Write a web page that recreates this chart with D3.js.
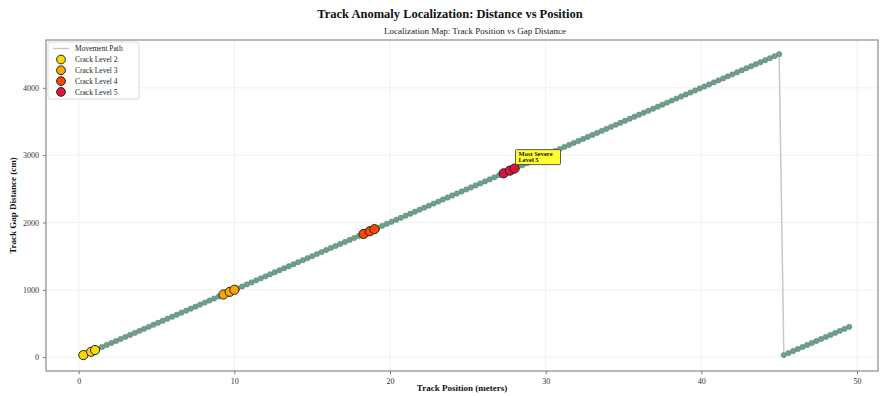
<!DOCTYPE html>
<html>
<head>
<meta charset="utf-8">
<script src="https://cdn.jsdelivr.net/npm/d3@7"></script>
<style>
  body { margin: 0; background: #fff; }
  svg text { font-family: "Liberation Serif", "DejaVu Serif", serif; }
</style>
</head>
<body>
<div id="chart"></div>
<script>
// track positions (m), one dot every 0.3 m
const positions = [
  0.3,0.6,0.9,1.2,1.5,1.8,2.1,2.4,2.7,3.0,3.3,3.6,3.9,4.2,4.5,4.8,5.1,5.4,5.7,6.0,
  6.3,6.6,6.9,7.2,7.5,7.8,8.1,8.4,8.7,9.0,9.3,9.6,9.9,10.2,10.5,10.8,11.1,11.4,11.7,12.0,
  12.3,12.6,12.9,13.2,13.5,13.8,14.1,14.4,14.7,15.0,15.3,15.6,15.9,16.2,16.5,16.8,17.1,17.4,17.7,18.0,
  18.3,18.6,18.9,19.2,19.5,19.8,20.1,20.4,20.7,21.0,21.3,21.6,21.9,22.2,22.5,22.8,23.1,23.4,23.7,24.0,
  24.3,24.6,24.9,25.2,25.5,25.8,26.1,26.4,26.7,27.0,27.3,27.6,27.9,28.2,28.5,28.8,29.1,29.4,29.7,30.0,
  30.3,30.6,30.9,31.2,31.5,31.8,32.1,32.4,32.7,33.0,33.3,33.6,33.9,34.2,34.5,34.8,35.1,35.4,35.7,36.0,
  36.3,36.6,36.9,37.2,37.5,37.8,38.1,38.4,38.7,39.0,39.3,39.6,39.9,40.2,40.5,40.8,41.1,41.4,41.7,42.0,
  42.3,42.6,42.9,43.2,43.5,43.8,44.1,44.4,44.7,45.0,
  45.3,45.6,45.9,46.2,46.5,46.8,47.1,47.4,47.7,48.0,48.3,48.6,48.9,49.2,49.5
];
// gap distance (cm) at each position
const gaps = [
  30,60,90,120,150,180,210,240,270,300,330,360,390,420,450,480,510,540,570,600,
  630,660,690,720,750,780,810,840,870,900,930,960,990,1020,1050,1080,1110,1140,1170,1200,
  1230,1260,1290,1320,1350,1380,1410,1440,1470,1500,1530,1560,1590,1620,1650,1680,1710,1740,1770,1800,
  1830,1860,1890,1920,1950,1980,2010,2040,2070,2100,2130,2160,2190,2220,2250,2280,2310,2340,2370,2400,
  2430,2460,2490,2520,2550,2580,2610,2640,2670,2700,2730,2760,2790,2820,2850,2880,2910,2940,2970,3000,
  3030,3060,3090,3120,3150,3180,3210,3240,3270,3300,3330,3360,3390,3420,3450,3480,3510,3540,3570,3600,
  3630,3660,3690,3720,3750,3780,3810,3840,3870,3900,3930,3960,3990,4020,4050,4080,4110,4140,4170,4200,
  4230,4260,4290,4320,4350,4380,4410,4440,4470,4500,
  30,60,90,120,150,180,210,240,270,300,330,360,390,420,450
];

// crack detections
const crackLevels = [2, 3, 4, 5];
const crackColors = ['#FFD700', '#FFA500', '#FF4500', '#DC143C'];
const crackPos = [
  [0.3, 0.8, 1.05],
  [9.3, 9.7, 10.0],
  [18.3, 18.7, 19.0],
  [27.3, 27.7, 28.0]
];
const crackGap = [
  [30, 80, 105],
  [930, 970, 1000],
  [1830, 1870, 1900],
  [2730, 2770, 2800]
];

const xTicks = [0, 10, 20, 30, 40, 50];
const yTicks = [0, 1000, 2000, 3000, 4000];

const dims = { width: 881, height: 396, margin: { top: 40, right: 3, bottom: 25, left: 46 } };
dims.ctrWidth = dims.width - dims.margin.left - dims.margin.right;
dims.ctrHeight = dims.height - dims.margin.top - dims.margin.bottom;

const svg = d3.select('#chart').append('svg')
  .attr('width', dims.width)
  .attr('height', dims.height);

const ctr = svg.append('g')
  .attr('transform', `translate(${dims.margin.left},${dims.margin.top})`);

const xScale = d3.scaleLinear().domain([-2.1, 51.35]).range([0, dims.ctrWidth]);
const yScale = d3.scaleLinear().domain([-206, 4710]).range([dims.ctrHeight, 0]);

// grid
ctr.append('g').selectAll('line').data(xTicks).join('line')
  .attr('x1', d => xScale(d)).attr('x2', d => xScale(d))
  .attr('y1', 0).attr('y2', dims.ctrHeight)
  .attr('stroke', '#ececec').attr('stroke-width', 0.8);
ctr.append('g').selectAll('line').data(yTicks).join('line')
  .attr('y1', d => yScale(d)).attr('y2', d => yScale(d))
  .attr('x1', 0).attr('x2', dims.ctrWidth)
  .attr('stroke', '#ececec').attr('stroke-width', 0.8);

// movement path
const pts = positions.map((p, i) => [p, gaps[i]]);
ctr.append('path')
  .datum(pts)
  .attr('fill', 'none')
  .attr('stroke', '#c8c8c8')
  .attr('stroke-width', 1.5)
  .attr('d', d3.line().x(d => xScale(d[0])).y(d => yScale(d[1])));

// track dots
ctr.append('g').selectAll('circle').data(pts).join('circle')
  .attr('cx', d => xScale(d[0]))
  .attr('cy', d => yScale(d[1]))
  .attr('r', 2.7)
  .attr('fill', '#6fa089')
  .attr('stroke', '#55836e')
  .attr('stroke-width', 0.5);

// crack markers
crackLevels.forEach((lvl, k) => {
  const data = crackPos[k].map((p, i) => [p, crackGap[k][i]]);
  ctr.append('g').selectAll('circle').data(data).join('circle')
    .attr('cx', d => xScale(d[0]))
    .attr('cy', d => yScale(d[1]))
    .attr('r', 4.6)
    .attr('fill', crackColors[k])
    .attr('stroke', '#222')
    .attr('stroke-width', 1);
});

// annotation on most severe crack
const sevX = xScale(crackPos[3][2]);
const sevY = yScale(crackGap[3][2]);
const ann = ctr.append('g').attr('transform', `translate(${sevX + 1},${sevY - 19})`);
ann.append('rect')
  .attr('x', 0).attr('y', 0).attr('width', 45).attr('height', 15)
  .attr('rx', 1)
  .attr('fill', '#ffff33').attr('stroke', '#333').attr('stroke-width', 0.8);
ann.append('text').attr('x', 3).attr('y', 6.5)
  .attr('font-size', 6.5).attr('font-weight', 'bold').attr('fill', '#111')
  .text('Most Severe');
ann.append('text').attr('x', 3).attr('y', 12.8)
  .attr('font-size', 6.5).attr('font-weight', 'bold').attr('fill', '#111')
  .text('Level 5');

// axes
const xAxis = d3.axisBottom(xScale).tickValues(xTicks).tickSize(3).tickPadding(4)
  .tickFormat(d3.format('d'));
const xAxisGroup = ctr.append('g')
  .attr('transform', `translate(0,${dims.ctrHeight})`)
  .call(xAxis);
const yAxis = d3.axisLeft(yScale).tickValues(yTicks).tickSize(3).tickPadding(4)
  .tickFormat(d3.format('d'));
const yAxisGroup = ctr.append('g').call(yAxis);
[xAxisGroup, yAxisGroup].forEach(g => {
  g.attr('color', '#333');
  g.select('.domain').remove();
  g.selectAll('.tick line').attr('stroke', '#555').attr('stroke-width', 0.8);
  g.selectAll('.tick text').attr('font-size', 8).attr('fill', '#333')
    .attr('font-family', '"Liberation Serif", serif');
});

// frame
ctr.append('rect')
  .attr('x', 0).attr('y', 0)
  .attr('width', dims.ctrWidth).attr('height', dims.ctrHeight)
  .attr('fill', 'none').attr('stroke', '#8a8a8a').attr('stroke-width', 1.2);

// titles
svg.append('text')
  .attr('x', 450).attr('y', 18)
  .attr('text-anchor', 'middle')
  .attr('font-size', 12.5).attr('font-weight', 'bold').attr('fill', '#111')
  .text('Track Anomaly Localization: Distance vs Position');
svg.append('text')
  .attr('x', 475).attr('y', 34)
  .attr('text-anchor', 'middle')
  .attr('font-size', 9).attr('fill', '#222')
  .text('Localization Map: Track Position vs Gap Distance');

svg.append('text')
  .attr('x', dims.margin.left + dims.ctrWidth / 2)
  .attr('y', 391)
  .attr('text-anchor', 'middle')
  .attr('font-size', 9).attr('font-weight', 'bold').attr('fill', '#111')
  .text('Track Position (meters)');
svg.append('text')
  .attr('transform', `translate(16,${dims.margin.top + dims.ctrHeight / 2}) rotate(-90)`)
  .attr('text-anchor', 'middle')
  .attr('font-size', 9).attr('font-weight', 'bold').attr('fill', '#111')
  .text('Track Gap Distance (cm)');

// legend
const legend = svg.append('g').attr('transform', 'translate(48,42)');
legend.append('rect')
  .attr('x', 0).attr('y', 0).attr('width', 91).attr('height', 57)
  .attr('rx', 2)
  .attr('fill', '#fff').attr('fill-opacity', 0.85)
  .attr('stroke', '#d0d0d0').attr('stroke-width', 0.8);
legend.append('line')
  .attr('x1', 5).attr('x2', 21).attr('y1', 6.5).attr('y2', 6.5)
  .attr('stroke', '#c8c8c8').attr('stroke-width', 1.5);
legend.append('text')
  .attr('x', 27).attr('y', 9)
  .attr('font-size', 7.5).attr('fill', '#222')
  .text('Movement Path');
crackLevels.forEach((lvl, k) => {
  const y = 17.5 + k * 10.8;
  legend.append('circle')
    .attr('cx', 13).attr('cy', y).attr('r', 4.4)
    .attr('fill', crackColors[k]).attr('stroke', '#222').attr('stroke-width', 1);
  legend.append('text')
    .attr('x', 27).attr('y', y + 2.6)
    .attr('font-size', 7.5).attr('fill', '#222')
    .text(`Crack Level ${lvl}`);
});
</script>
</body>
</html>
